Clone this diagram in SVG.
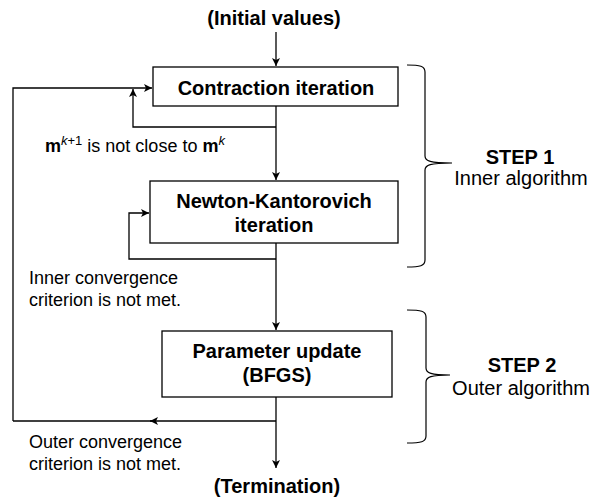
<svg xmlns="http://www.w3.org/2000/svg" width="593" height="498" viewBox="0 0 593 498">
<defs>
<marker id="arr" markerUnits="userSpaceOnUse" markerWidth="10" markerHeight="9" refX="8" refY="4" orient="auto">
<path d="M0,0 L8,4 L0,8 L2,4 z" fill="#000"/>
</marker>
<style>
.b{font-family:"Liberation Sans",Arial,sans-serif;font-weight:bold;font-size:20px;fill:#000;text-anchor:middle}
.r{font-family:"Liberation Sans",Arial,sans-serif;font-size:18px;fill:#000}
.rc{font-family:"Liberation Sans",Arial,sans-serif;font-size:20px;fill:#000;text-anchor:middle}
.box{fill:#fff;stroke:#000;stroke-width:1.3}
.ln{fill:none;stroke:#000;stroke-width:1.3}
.br{fill:none;stroke:#000;stroke-width:1.2}
</style>
</defs>
<rect width="593" height="498" fill="#fff"/>
<g id="connectors">
<path class="ln" d="M276,32 L276,66" marker-end="url(#arr)"/>
<path class="ln" d="M276,106 L276,180" marker-end="url(#arr)"/>
<path class="ln" d="M276,127 L133,127 L133,89" marker-end="url(#arr)"/>
<path class="ln" d="M13,421 L13,88 L152,88" marker-end="url(#arr)"/>
<path class="ln" d="M276,243 L276,330" marker-end="url(#arr)"/>
<path class="ln" d="M276,259 L129,259 L129,213 L149,213" marker-end="url(#arr)"/>
<path class="ln" d="M276,397 L276,468" marker-end="url(#arr)"/>
<path class="ln" d="M276,421 L150,421" marker-end="url(#arr)"/>
<path class="ln" d="M152,421 L13,421"/>
</g>
<g id="initial"><text class="b" x="274" y="25">(Initial values)</text></g>
<g id="contraction">
<rect class="box" x="153" y="67" width="245" height="39"/>
<text class="b" x="276" y="95">Contraction iteration</text>
</g>
<g id="newton">
<rect class="box" x="150" y="181" width="248" height="62"/>
<text class="b" x="274" y="208">Newton-Kantorovich</text>
<text class="b" x="274" y="232">iteration</text>
</g>
<g id="parameter">
<rect class="box" x="162" y="331" width="230" height="66"/>
<text class="b" x="277" y="358">Parameter update</text>
<text class="b" x="277" y="382">(BFGS)</text>
</g>
<g id="termination"><text class="b" x="277" y="493">(Termination)</text></g>
<g id="label-contraction">
<text class="r" x="45" y="152"><tspan font-weight="bold">m</tspan><tspan font-style="italic" font-size="13" dy="-7">k</tspan><tspan font-size="13">+1</tspan><tspan dy="7"> is not close to </tspan><tspan font-weight="bold">m</tspan><tspan font-style="italic" font-size="13" dy="-7">k</tspan></text>
</g>
<g id="label-inner">
<text class="r" x="29" y="284">Inner convergence</text>
<text class="r" x="29" y="306">criterion is not met.</text>
</g>
<g id="label-outer">
<text class="r" x="29" y="448">Outer convergence</text>
<text class="r" x="29" y="470">criterion is not met.</text>
</g>
<g id="brace1">
<path class="br" d="M407,65 C420,65 425,66 425,72 L425,156 C425,161 430,163 452,163 C430,163 425,165 425,170 L425,260 C425,266 420,267 407,267"/>
<text class="b" x="520" y="164">STEP 1</text>
<text class="rc" x="521" y="185">Inner algorithm</text>
</g>
<g id="brace2">
<path class="br" d="M407,310 C421,310 426,311 426,317 L426,368 C426,373 431,375 450,375 C431,375 426,377 426,382 L426,436 C426,442 421,443 407,443"/>
<text class="b" x="522" y="372">STEP 2</text>
<text class="rc" x="521" y="395">Outer algorithm</text>
</g>
</svg>
